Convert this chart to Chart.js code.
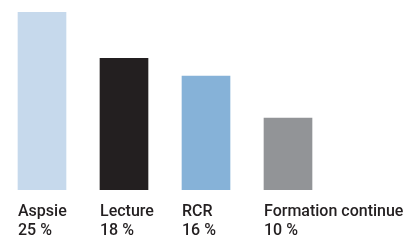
<!DOCTYPE html>
<html>
<head>
<meta charset="utf-8">
<script src="https://cdn.jsdelivr.net/npm/chart.js@4/dist/chart.umd.min.js"></script>
<style>
  html, body { margin: 0; padding: 0; background: #fff; }
  #wrap { width: 411px; height: 242px; }
</style>
</head>
<body>
<div id="wrap"><canvas id="canvas" width="411" height="242"></canvas></div>
<script>
var categories = ["Aspsie", "Lecture", "RCR", "Formation continue"];
var percentLabels = ["25 %", "18 %", "16 %", "10 %"];
// bar heights
var values = [25, 18.5, 16, 10.1];
var barColors = ["#c6d9ec", "#231f20", "#86b2d8", "#929497"];

var labels = [];
for (var i = 0; i < categories.length; i++) {
    labels.push([categories[i], percentLabels[i]]);
}

window.onload = function () {
    var ctx = document.getElementById("canvas").getContext("2d");
    window.myBar = new Chart(ctx, {
        type: "bar",
        data: {
            labels: labels,
            datasets: [{
                data: values,
                backgroundColor: barColors,
                borderWidth: 0,
                barThickness: 48
            }]
        },
        options: {
            responsive: false,
            animation: false,
            layout: {
                padding: { left: 1, right: 82, top: 12, bottom: 0 }
            },
            plugins: {
                legend: { display: false },
                tooltip: { enabled: false }
            },
            scales: {
                x: {
                    grid: { display: false, drawTicks: false, tickLength: 0 },
                    border: { display: false },
                    afterFit: function (scale) {
                        scale.paddingLeft = 0;
                        scale.paddingRight = 0;
                        scale.height = 52;
                    },
                    ticks: {
                        align: "start",
                        labelOffset: -24,
                        padding: 12,
                        color: "#231f20",
                        autoSkip: false,
                        maxRotation: 0,
                        font: { family: "Roboto", size: 16, weight: 500, lineHeight: 1.19 }
                    }
                },
                y: {
                    display: false,
                    min: 0,
                    max: 25
                }
            }
        }
    });
};
</script>
</body>
</html>
